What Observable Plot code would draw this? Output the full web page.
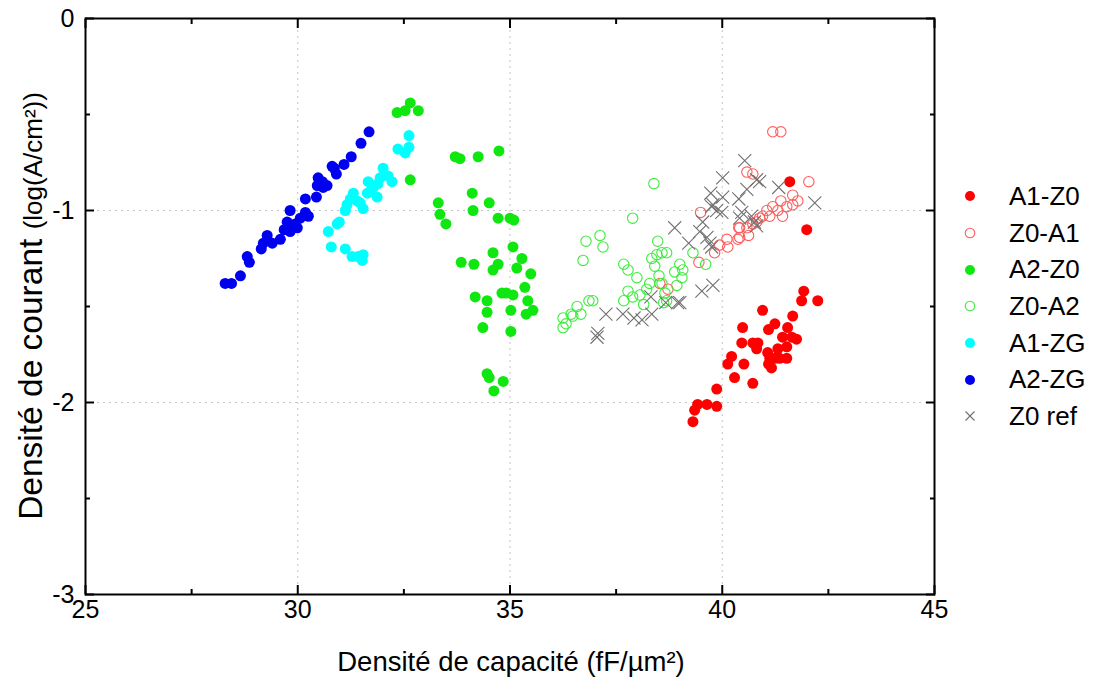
<!DOCTYPE html>
<html>
<head>
<meta charset="utf-8">
<script src="https://cdn.jsdelivr.net/npm/d3@7"></script>
<script src="https://cdn.jsdelivr.net/npm/@observablehq/plot@0.6"></script>
<style>
  html, body { margin: 0; padding: 0; background: #fff; }
  #wrap { position: relative; width: 1096px; height: 680px; font-family: "Liberation Sans", Arial, sans-serif; color: #000; }
  #chart { position: absolute; left: 0; top: 0; }
  .xt { position: absolute; left: 511px; top: 662px; transform: translate(-50%, -50%); white-space: nowrap; font-size: 27.5px; }
  .yt { position: absolute; left: 31px; top: 306px; transform: translate(-50%, -50%) rotate(-90deg); white-space: nowrap; font-size: 33.5px; }
  .yt .small { font-size: 26px; }
  #legend { position: absolute; left: 960px; top: 178px; }
  .li { display: flex; align-items: center; height: 36.7px; font-size: 26px; }
  .li svg { width: 20px; height: 20px; margin-right: 29px; }
</style>
</head>
<body>
<div id="wrap">
  <div id="chart"></div>
  <div class="xt">Densité de capacité (fF/µm²)</div>
  <div class="yt">Densité de courant <span class="small">(log(A/cm²))</span></div>
  <div id="legend"></div>
</div>
<script>
// ---- axis ticks ----
const xMajor = [25, 30, 35, 40, 45];
const xMinor = [27.5, 32.5, 37.5, 42.5];
const yMajor = [-3, -2, -1, 0];
const yMinor = [-2.5, -1.5, -0.5];

// ---- series (x: capacité fF/µm², y: log courant) ----
const seriesNames = ["A1-Z0", "Z0-A1", "A2-Z0", "Z0-A2", "A1-ZG", "A2-ZG", "Z0 ref"];

const a1z0_x = [41.59, 41.99, 41.92, 41.87, 42.25, 40.95, 41.66, 40.48, 41.24, 41.09, 41.54, 41.42, 41.64, 41.75, 41.52, 40.46, 40.72, 40.84, 40.81, 41.07, 41.31, 41.12, 41.24, 41.35, 41.52, 40.22, 40.13, 40.51, 41.09, 41.16, 40.29, 40.72, 39.87, 39.87, 39.64, 39.42, 39.35, 39.31];
const a1z0_y = [-0.85, -1.10, -1.42, -1.47, -1.47, -1.52, -1.55, -1.61, -1.59, -1.62, -1.61, -1.66, -1.66, -1.67, -1.71, -1.69, -1.69, -1.69, -1.72, -1.74, -1.72, -1.77, -1.77, -1.77, -1.77, -1.76, -1.80, -1.80, -1.80, -1.82, -1.87, -1.90, -1.93, -2.02, -2.01, -2.01, -2.04, -2.10];

const z0a1_x = [39.49, 39.45, 39.82, 39.94, 40.11, 40.13, 40.39, 38.53, 38.72, 41.19, 41.38, 40.58, 40.72, 42.04, 41.66, 41.78, 41.66, 41.52, 41.38, 41.42, 41.31, 41.19, 41.12, 41.05, 40.95, 40.88, 40.81, 40.72, 40.58, 40.41, 40.41, 40.62, 40.37];
const z0a1_y = [-1.01, -1.27, -1.22, -1.18, -1.15, -1.19, -1.09, -1.38, -1.41, -0.59, -0.59, -0.80, -0.81, -0.85, -0.92, -0.95, -0.97, -0.98, -0.95, -1.03, -1.00, -0.98, -1.03, -1.00, -1.03, -1.04, -1.06, -1.07, -1.09, -1.09, -1.14, -1.13, -1.15];

const a2z0_x = [32.34, 32.53, 32.65, 32.84, 32.65, 33.71, 33.82, 34.25, 34.74, 33.31, 33.35, 33.49, 34.11, 34.13, 34.51, 34.72, 35.00, 35.09, 35.07, 34.60, 35.28, 33.85, 34.15, 34.72, 34.60, 35.16, 35.49, 35.35, 34.81, 34.91, 35.07, 34.18, 34.46, 35.42, 35.54, 35.38, 34.46, 35.02, 34.36, 35.02, 34.46, 34.51, 34.84, 34.62];
const a2z0_y = [-0.49, -0.48, -0.44, -0.48, -0.84, -0.72, -0.73, -0.72, -0.69, -0.96, -1.02, -1.07, -0.91, -1.00, -0.96, -1.04, -1.04, -1.05, -1.19, -1.22, -1.25, -1.27, -1.28, -1.28, -1.31, -1.30, -1.33, -1.40, -1.43, -1.43, -1.44, -1.45, -1.47, -1.47, -1.52, -1.54, -1.53, -1.52, -1.61, -1.63, -1.85, -1.87, -1.89, -1.94];

const z0a2_x = [38.39, 37.89, 36.79, 37.12, 37.19, 36.72, 38.48, 37.68, 37.78, 37.99, 38.34, 38.41, 38.46, 38.58, 38.69, 39.31, 39.61, 39.00, 39.07, 38.88, 39.05, 38.93, 38.51, 38.58, 38.29, 38.22, 38.65, 38.69, 38.62, 37.78, 37.68, 37.89, 38.06, 38.15, 36.86, 36.95, 36.58, 36.67, 36.48, 36.44, 36.25, 36.32, 36.25];
const z0a2_y = [-0.86, -1.04, -1.16, -1.13, -1.19, -1.26, -1.16, -1.28, -1.31, -1.35, -1.25, -1.29, -1.23, -1.22, -1.22, -1.22, -1.28, -1.28, -1.31, -1.32, -1.35, -1.39, -1.34, -1.38, -1.38, -1.41, -1.43, -1.47, -1.48, -1.42, -1.47, -1.45, -1.44, -1.49, -1.47, -1.47, -1.50, -1.54, -1.55, -1.54, -1.56, -1.59, -1.61];

const a1zg_x = [30.72, 30.79, 30.93, 30.98, 31.12, 31.28, 31.42, 31.54, 31.52, 31.12, 31.16, 31.24, 31.31, 31.40, 31.47, 31.54, 31.64, 31.71, 31.66, 31.78, 31.87, 31.89, 31.94, 32.01, 32.13, 32.22, 32.36, 32.53, 32.62, 32.62];
const a1zg_y = [-1.11, -1.19, -1.07, -1.06, -1.20, -1.24, -1.24, -1.23, -1.26, -1.00, -0.97, -0.94, -0.91, -0.95, -0.96, -0.99, -0.91, -0.90, -0.85, -0.88, -0.93, -0.86, -0.83, -0.78, -0.82, -0.85, -0.68, -0.70, -0.67, -0.61];

const a2zg_x = [28.29, 28.44, 28.65, 28.81, 28.86, 29.14, 29.19, 29.28, 29.40, 29.59, 29.68, 29.75, 29.82, 29.87, 29.94, 29.99, 30.06, 30.18, 30.25, 29.82, 30.18, 30.44, 30.46, 30.48, 30.60, 30.69, 30.58, 30.81, 30.91, 30.86, 31.09, 31.26, 31.49, 31.68];
const a2zg_y = [-1.38, -1.38, -1.34, -1.24, -1.27, -1.20, -1.17, -1.13, -1.17, -1.15, -1.10, -1.06, -1.00, -1.08, -1.07, -1.09, -1.04, -1.01, -1.03, -1.11, -0.94, -0.93, -0.87, -0.83, -0.88, -0.87, -0.85, -0.77, -0.81, -0.78, -0.76, -0.72, -0.65, -0.59];

const z0ref_x = [40.01, 39.73, 40.01, 39.78, 39.87, 39.99, 39.75, 39.54, 39.47, 39.64, 39.71, 38.88, 39.21, 39.78, 39.52, 39.00, 38.95, 38.67, 38.32, 38.34, 38.11, 37.92, 37.66, 37.26, 37.07, 37.05, 40.53, 40.39, 40.58, 40.81, 40.88, 41.33, 42.18, 40.46, 40.41, 40.69, 40.76, 40.81, 39.75];
const z0ref_y = [-0.83, -0.91, -0.93, -0.97, -1.00, -1.01, -0.98, -1.06, -1.11, -1.14, -1.17, -1.09, -1.17, -1.39, -1.42, -1.48, -1.48, -1.48, -1.45, -1.54, -1.57, -1.56, -1.54, -1.54, -1.64, -1.66, -0.74, -0.94, -0.89, -0.84, -0.85, -0.88, -0.96, -1.01, -1.04, -1.03, -1.06, -1.08, -1.19];

const toRows = (xs, ys) => xs.map((x, i) => ({x, y: ys[i]}));

const styles = [
  {name: "A1-Z0", rows: toRows(a1z0_x, a1z0_y), kind: "fill", color: "#ff0000"},
  {name: "Z0-A1", rows: toRows(z0a1_x, z0a1_y), kind: "open", color: "#ff5c5c"},
  {name: "A2-Z0", rows: toRows(a2z0_x, a2z0_y), kind: "fill", color: "#10e610"},
  {name: "Z0-A2", rows: toRows(z0a2_x, z0a2_y), kind: "open", color: "#3cec3c"},
  {name: "A1-ZG", rows: toRows(a1zg_x, a1zg_y), kind: "fill", color: "#00ffff"},
  {name: "A2-ZG", rows: toRows(a2zg_x, a2zg_y), kind: "fill", color: "#0000f0"},
  {name: "Z0 ref", rows: toRows(z0ref_x, z0ref_y), kind: "times", color: "#707070"}
];

const seriesMarks = styles.map(s => {
  if (s.kind === "fill") return Plot.dot(s.rows, {x: "x", y: "y", r: 5.5, fill: s.color, stroke: "none"});
  if (s.kind === "open") return Plot.dot(s.rows, {x: "x", y: "y", r: 5.2, fill: "none", stroke: s.color, strokeWidth: 1.1});
  return Plot.dot(s.rows, {x: "x", y: "y", r: 6, symbol: "times", stroke: s.color, strokeWidth: 1.1});
});

const fmt = d => String(d);
const tickFont = 25;
const tickFamily = "'Liberation Sans Narrow', 'Liberation Sans', Arial, sans-serif";

const chart = Plot.plot({
  width: 1096,
  height: 680,
  marginLeft: 85,
  marginRight: 162,
  marginTop: 18,
  marginBottom: 86,
  x: {domain: [25, 45]},
  y: {domain: [-3, 0]},
  style: {fontFamily: tickFamily, fontSize: "25px", color: "#000", background: "#fff"},
  marks: [
    Plot.gridX(xMajor.slice(1, -1), {stroke: "#c4c4c4", strokeOpacity: 1, strokeDasharray: "2,4", strokeWidth: 1}),
    Plot.gridY(yMajor.slice(1, -1), {stroke: "#c4c4c4", strokeOpacity: 1, strokeDasharray: "2,4", strokeWidth: 1}),
    ...seriesMarks,
    Plot.axisX(xMajor, {anchor: "bottom", tickSize: -9, tickPadding: 15, tickFormat: fmt, fontSize: tickFont, fontFamily: tickFamily, label: null, strokeWidth: 2}),
    Plot.axisX(xMinor, {anchor: "bottom", tickSize: -5, tickFormat: () => "", label: null, strokeWidth: 2}),
    Plot.axisX(xMajor, {anchor: "top", tickSize: -9, tickFormat: () => "", label: null, strokeWidth: 2}),
    Plot.axisX(xMinor, {anchor: "top", tickSize: -5, tickFormat: () => "", label: null, strokeWidth: 2}),
    Plot.axisY(yMajor, {anchor: "left", tickSize: -9, tickPadding: 20, tickFormat: fmt, fontSize: tickFont, fontFamily: tickFamily, label: null, strokeWidth: 2}),
    Plot.axisY(yMinor, {anchor: "left", tickSize: -5, tickFormat: () => "", label: null, strokeWidth: 2}),
    Plot.axisY(yMajor, {anchor: "right", tickSize: -9, tickFormat: () => "", label: null, strokeWidth: 2}),
    Plot.axisY(yMinor, {anchor: "right", tickSize: -5, tickFormat: () => "", label: null, strokeWidth: 2}),
    Plot.frame({stroke: "#000", strokeWidth: 2})
  ]
});
document.getElementById("chart").appendChild(chart);

// ---- legend ----
const legend = document.getElementById("legend");
for (const s of styles) {
  const row = document.createElement("div");
  row.className = "li";
  let sym;
  if (s.kind === "fill") sym = `<circle cx="10" cy="10" r="5" fill="${s.color}"/>`;
  else if (s.kind === "open") sym = `<circle cx="10" cy="10" r="4.8" fill="none" stroke="${s.color}" stroke-width="1.1"/>`;
  else sym = `<path d="M5.5,5.5L14.5,14.5M14.5,5.5L5.5,14.5" stroke="${s.color}" stroke-width="1.1" fill="none"/>`;
  row.innerHTML = `<svg viewBox="0 0 20 20">${sym}</svg><span>${s.name}</span>`;
  legend.appendChild(row);
}
</script>
</body>
</html>
